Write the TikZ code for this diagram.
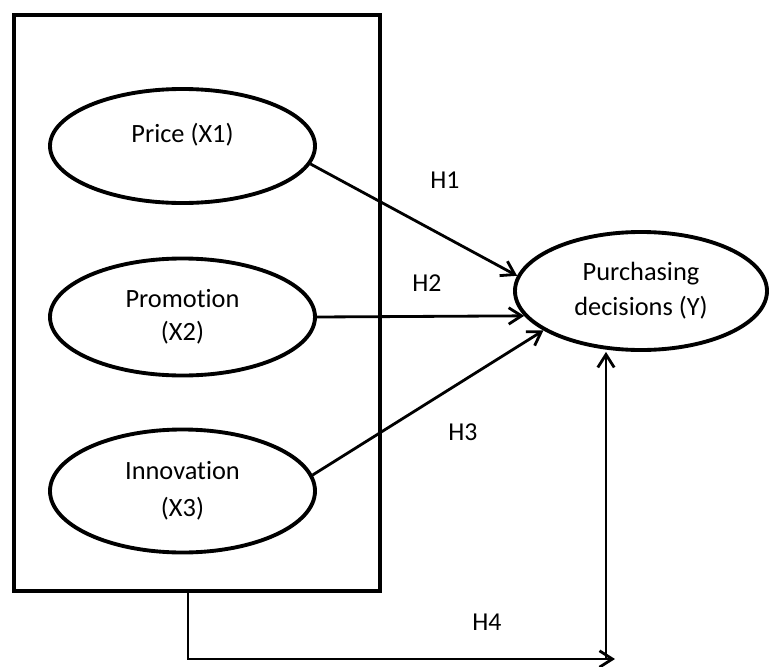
\documentclass[tikz,border=0pt]{standalone}
\usepackage{fontspec}
\setmainfont{Carlito}[Ligatures=NoCommon]
\usetikzlibrary{shapes.geometric, arrows.meta}

\tikzset{
  factor/.style={ellipse, draw, line width=3.3pt, inner sep=0pt, minimum width=7.95cm, align=center, font=\fontsize{22.5}{28}\selectfont},
  hyp/.style={line width=2.4pt, -{Straight Barb[length=11pt, width=14pt]}},
  hlabel/.style={inner sep=0pt, font=\fontsize{22}{25}\selectfont},
}

\begin{document}
\begin{tikzpicture}[x=0.03cm, y=-0.03cm]
        \useasboundingbox (0,0) rectangle (770,667);

        \node[draw, line width=2.9pt, inner sep=0pt, minimum width=10.98cm, minimum height=17.28cm] (box) at (197,303) {};

        \node[factor, minimum height=3.42cm, text depth=22pt] (x1) at (182.5,146) {Price (X1)};
        \node[factor, minimum height=3.51cm] (x2) at (182.5,317) {Promotion\\(X2)};
        \node[factor, minimum height=3.69cm] (x3) at (182.5,491) {Innovation\\[4pt](X3)};
        \node[factor, minimum width=7.56cm, minimum height=3.54cm] (y) at (641,291) {Purchasing\\[2pt]decisions (Y)};

        \coordinate (h4a) at (188,659);
        \coordinate (h4b) at (615,659);
        \coordinate (h4c) at (606,659);

        \draw[hyp] (x1.-8) -- (y.173);
        \draw[hyp] (x2.east) -- (y.192);
        \draw[hyp] (x3.7) -- (y.202.6);
        \draw[hyp] (box.south -| h4a) -- (h4a) -- (h4b);
        \draw[hyp] (h4c) -- (h4c |- y.south);

        \node[hlabel] (h1) at (445,180) {H1};
        \node[hlabel] (h2) at (427,283) {H2};
        \node[hlabel] (h3) at (463,432) {H3};
        \node[hlabel] (h4) at (487,622) {H4};
    \end{tikzpicture}
\end{document}
